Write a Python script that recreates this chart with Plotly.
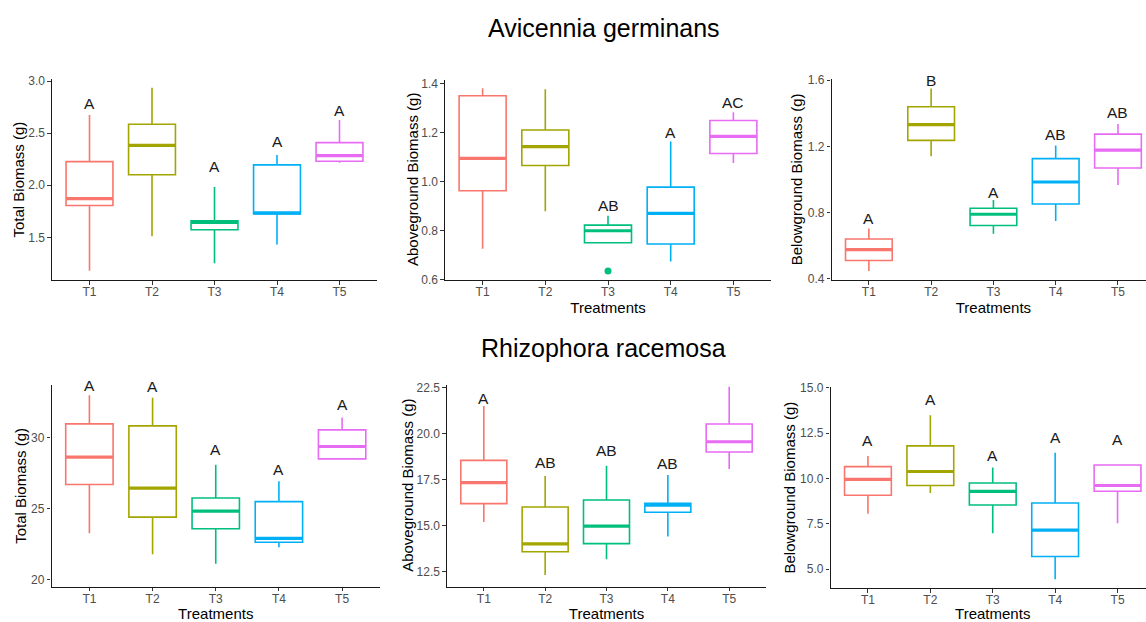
import plotly.graph_objects as go

# ---------------- data ----------------
treatments = ["T1", "T2", "T3", "T4", "T5"]
colors = ["#F8766D", "#A3A500", "#00BF7D", "#00B0F6", "#E76BF3"]

# Avicennia germinans - Total biomass
av_tot_lo = [1.18, 1.51, 1.25, 1.43, 2.215]
av_tot_q1 = [1.805, 2.10, 1.572, 1.725, 2.23]
av_tot_med = [1.872, 2.383, 1.642, 1.735, 2.284]
av_tot_q3 = [2.227, 2.585, 1.658, 2.195, 2.409]
av_tot_hi = [2.674, 2.936, 1.984, 2.291, 2.626]
av_tot_let = ["A", "A", "A", "A", "A"]
av_tot_let_y = [2.786, 3.04, 2.18, 2.42, 2.72]

# Avicennia germinans - Aboveground biomass
av_abv_lo = [0.726, 0.878, 0.750, 0.673, 1.075]
av_abv_q1 = [0.962, 1.065, 0.750, 0.745, 1.114]
av_abv_med = [1.094, 1.142, 0.799, 0.870, 1.184]
av_abv_q3 = [1.350, 1.210, 0.822, 0.977, 1.249]
av_abv_hi = [1.380, 1.376, 0.860, 1.163, 1.282]
av_abv_let = ["A", "A", "AB", "A", "AC"]
av_abv_let_y = [1.438, 1.43, 0.904, 1.20, 1.321]
av_abv_out_x = ["T3"]
av_abv_out_y = [0.635]

# Avicennia germinans - Belowground biomass
av_bel_lo = [0.448, 1.140, 0.673, 0.750, 0.967]
av_bel_q1 = [0.511, 1.236, 0.722, 0.852, 1.069]
av_bel_med = [0.577, 1.331, 0.790, 0.985, 1.178]
av_bel_q3 = [0.641, 1.439, 0.826, 1.126, 1.274]
av_bel_hi = [0.704, 1.550, 0.876, 1.206, 1.335]
av_bel_let = ["A", "B", "A", "AB", "AB"]
av_bel_let_y = [0.762, 1.596, 0.921, 1.272, 1.405]

# Rhizophora racemosa - Total biomass
rh_tot_lo = [23.26, 21.78, 21.12, 22.27, 28.50]
rh_tot_q1 = [26.70, 24.40, 23.58, 22.63, 28.50]
rh_tot_med = [28.62, 26.44, 24.82, 22.90, 29.37]
rh_tot_q3 = [30.96, 30.82, 25.74, 25.49, 30.54]
rh_tot_hi = [32.97, 32.81, 28.08, 26.93, 31.41]
rh_tot_let = ["A", "A", "A", "A", "A"]
rh_tot_let_y = [33.68, 33.61, 29.16, 27.75, 32.32]

# Rhizophora racemosa - Aboveground biomass
rh_abv_lo = [15.21, 12.34, 13.19, 14.42, 18.09]
rh_abv_q1 = [16.21, 13.60, 14.04, 15.74, 19.01]
rh_abv_med = [17.35, 14.02, 14.99, 16.13, 19.57]
rh_abv_q3 = [18.56, 16.03, 16.41, 16.23, 20.53]
rh_abv_hi = [21.51, 17.71, 18.27, 17.76, 22.55]
rh_abv_let = ["A", "AB", "AB", "AB", "AC"]
rh_abv_let_y = [21.92, 18.43, 19.12, 18.40, 23.15]

# Rhizophora racemosa - Belowground biomass
rh_bel_lo = [8.05, 9.20, 6.98, 4.45, 7.53]
rh_bel_q1 = [9.07, 9.61, 8.54, 5.70, 9.29]
rh_bel_med = [9.95, 10.38, 9.29, 7.15, 9.61]
rh_bel_q3 = [10.65, 11.79, 9.75, 8.65, 10.74]
rh_bel_hi = [11.24, 13.48, 10.60, 11.42, 10.78]
rh_bel_let = ["A", "A", "A", "A", "A"]
rh_bel_let_y = [12.08, 14.32, 11.28, 12.27, 12.14]

y_titles = ["Total Biomass (g)", "Aboveground Biomass (g)", "Belowground Biomass (g)"]
species = ["Avicennia germinans", "Rhizophora racemosa"]
x_title = "Treatments"

# ---------------- layout helpers ----------------
W, H = 1146, 622
FONT = "Arial, Liberation Sans, sans-serif"


def px_x(p):
    return p / W


def px_y(p):
    return 1 - p / H


panels = [
    dict(stats=(av_tot_lo, av_tot_q1, av_tot_med, av_tot_q3, av_tot_hi), let=av_tot_let, let_y=av_tot_let_y,
         xd=(52, 377), yd=(79, 280), xr=(-0.6, 4.6), yr=(1.09, 3.02), tv=[1.5, 2.0, 2.5, 3.0], fmt=".1f",
         ytitle=0, ytx=18, xtitle=False),
    dict(stats=(av_abv_lo, av_abv_q1, av_abv_med, av_abv_q3, av_abv_hi), let=av_abv_let, let_y=av_abv_let_y,
         xd=(445, 771), yd=(80, 280), xr=(-0.6, 4.6), yr=(0.598, 1.414), tv=[0.6, 0.8, 1.0, 1.2, 1.4], fmt=".1f",
         ytitle=1, ytx=412, xtitle=True, xty=309),
    dict(stats=(av_bel_lo, av_bel_q1, av_bel_med, av_bel_q3, av_bel_hi), let=av_bel_let, let_y=av_bel_let_y,
         xd=(831.5, 1146), yd=(78.5, 280), xr=(-0.6, 4.45), yr=(0.393, 1.61), tv=[0.4, 0.8, 1.2, 1.6], fmt=".1f",
         ytitle=2, ytx=796, xtitle=True, xty=309),
    dict(stats=(rh_tot_lo, rh_tot_q1, rh_tot_med, rh_tot_q3, rh_tot_hi), let=rh_tot_let, let_y=rh_tot_let_y,
         xd=(51.5, 380), yd=(385, 586.7), xr=(-0.6, 4.6), yr=(19.5, 33.7), tv=[20, 25, 30], fmt="d",
         ytitle=0, ytx=21, xtitle=True, xty=615),
    dict(stats=(rh_abv_lo, rh_abv_q1, rh_abv_med, rh_abv_q3, rh_abv_hi), let=rh_abv_let, let_y=rh_abv_let_y,
         xd=(447, 766), yd=(385, 586.7), xr=(-0.6, 4.6), yr=(11.7, 22.65), tv=[12.5, 15.0, 17.5, 20.0, 22.5], fmt=".1f",
         ytitle=1, ytx=408, xtitle=True, xty=615),
    dict(stats=(rh_bel_lo, rh_bel_q1, rh_bel_med, rh_bel_q3, rh_bel_hi), let=rh_bel_let, let_y=rh_bel_let_y,
         xd=(830.5, 1146), yd=(386.7, 588.3), xr=(-0.6, 4.456), yr=(3.95, 15.05), tv=[5.0, 7.5, 10.0, 12.5, 15.0], fmt=".1f",
         ytitle=2, ytx=789, xtitle=True, xty=615),
]

fig = go.Figure()
annotations = []
layout = dict(width=W, height=H, margin=dict(l=0, r=0, t=0, b=0, autoexpand=False), showlegend=False,
              plot_bgcolor="rgba(0,0,0,0)", paper_bgcolor="white", font=dict(family=FONT))

BOX_W = 0.75
positions = list(range(len(treatments)))
xt_x, xt_y = [], []

for i, p in enumerate(panels):
    k = i + 1
    xa = "x" if k == 1 else f"x{k}"
    ya = "y" if k == 1 else f"y{k}"
    lo, q1, med, q3, hi = p["stats"]
    for j, t in enumerate(treatments):
        fig.add_trace(go.Box(
            x=[positions[j]], q1=[q1[j]], median=[med[j]], q3=[q3[j]],
            lowerfence=[lo[j]], upperfence=[hi[j]], width=BOX_W, whiskerwidth=0,
            line=dict(color=colors[j], width=1.6), fillcolor="rgba(255,255,255,0)",
            boxpoints=False, xaxis=xa, yaxis=ya, hoverinfo="skip"))
        # thicker median line (ggplot fatten)
        fig.add_trace(go.Scatter(
            x=[positions[j] - BOX_W / 2, positions[j] + BOX_W / 2], y=[med[j], med[j]],
            mode="lines", line=dict(color=colors[j], width=3.2), xaxis=xa, yaxis=ya, hoverinfo="skip"))
        annotations.append(dict(x=positions[j], y=p["let_y"][j], xref=xa, yref=ya, text=p["let"][j],
                                showarrow=False, font=dict(size=15.5, color="#1a1a1a", family=FONT),
                                xanchor="center", yanchor="middle"))
    layout["xaxis" if k == 1 else f"xaxis{k}"] = dict(
        domain=[px_x(p["xd"][0]), px_x(p["xd"][1])], range=list(p["xr"]), anchor=ya, automargin=False,
        tickmode="array", tickvals=positions, ticktext=treatments, ticklabelstandoff=-3,
        showline=True, linecolor="#1a1a1a", linewidth=1.3, ticks="outside", ticklen=3.5,
        tickcolor="#333333", tickwidth=1, showgrid=False, zeroline=False,
        tickfont=dict(size=12, color="#4D4D4D", family=FONT), fixedrange=True)
    layout["yaxis" if k == 1 else f"yaxis{k}"] = dict(
        domain=[px_y(p["yd"][1]), px_y(p["yd"][0])], range=list(p["yr"]), anchor=xa, automargin=False,
        tickmode="array", tickvals=p["tv"], tickformat=p["fmt"], ticksuffix=" ",
        showline=True, linecolor="#1a1a1a", linewidth=1.3, ticks="outside", ticklen=3.5,
        tickcolor="#333333", tickwidth=1, showgrid=False, zeroline=False,
        tickfont=dict(size=12, color="#4D4D4D", family=FONT), fixedrange=True)
    # y axis title
    annotations.append(dict(x=px_x(p["ytx"]), y=px_y((p["yd"][0] + p["yd"][1]) / 2), xref="paper", yref="paper",
                            text=y_titles[p["ytitle"]], textangle=-90, showarrow=False,
                            font=dict(size=15, color="black", family=FONT), xanchor="center", yanchor="middle"))
    if p["xtitle"]:
        # centre of the axis title = centre tick (T3) of this panel, in page pixels
        xc = p["xd"][0] + (p["xd"][1] - p["xd"][0]) * (2 - p["xr"][0]) / (p["xr"][1] - p["xr"][0])
        xt_x.append(xc)
        xt_y.append(p["xty"])

# outlier in Avicennia aboveground T3
fig.add_trace(go.Scatter(x=[treatments.index(t) for t in av_abv_out_x], y=av_abv_out_y, mode="markers",
                         marker=dict(color=colors[2], size=7), xaxis="x2", yaxis="y2", hoverinfo="skip"))

# x axis titles on an invisible full-page overlay axis (page-pixel units)
fig.add_trace(go.Scatter(x=xt_x, y=xt_y, mode="text", text=[x_title] * len(xt_x), textposition="middle center",
                         textfont=dict(size=15, color="black", family=FONT),
                         xaxis="x7", yaxis="y7", hoverinfo="skip"))
layout["xaxis7"] = dict(domain=[0, 1], range=[0, W], anchor="y7", visible=False, fixedrange=True, automargin=False)
layout["yaxis7"] = dict(domain=[0, 1], range=[H, 0], anchor="x7", visible=False, fixedrange=True, automargin=False)

# species titles
annotations.append(dict(x=px_x(604), y=px_y(28), xref="paper", yref="paper", text=species[0], showarrow=False,
                        font=dict(size=25, color="black", family=FONT), xanchor="center", yanchor="middle"))
annotations.append(dict(x=px_x(603), y=px_y(348), xref="paper", yref="paper", text=species[1], showarrow=False,
                        font=dict(size=25, color="black", family=FONT), xanchor="center", yanchor="middle"))

layout["annotations"] = annotations
fig.update_layout(**layout)
fig.write_html("out.html")
